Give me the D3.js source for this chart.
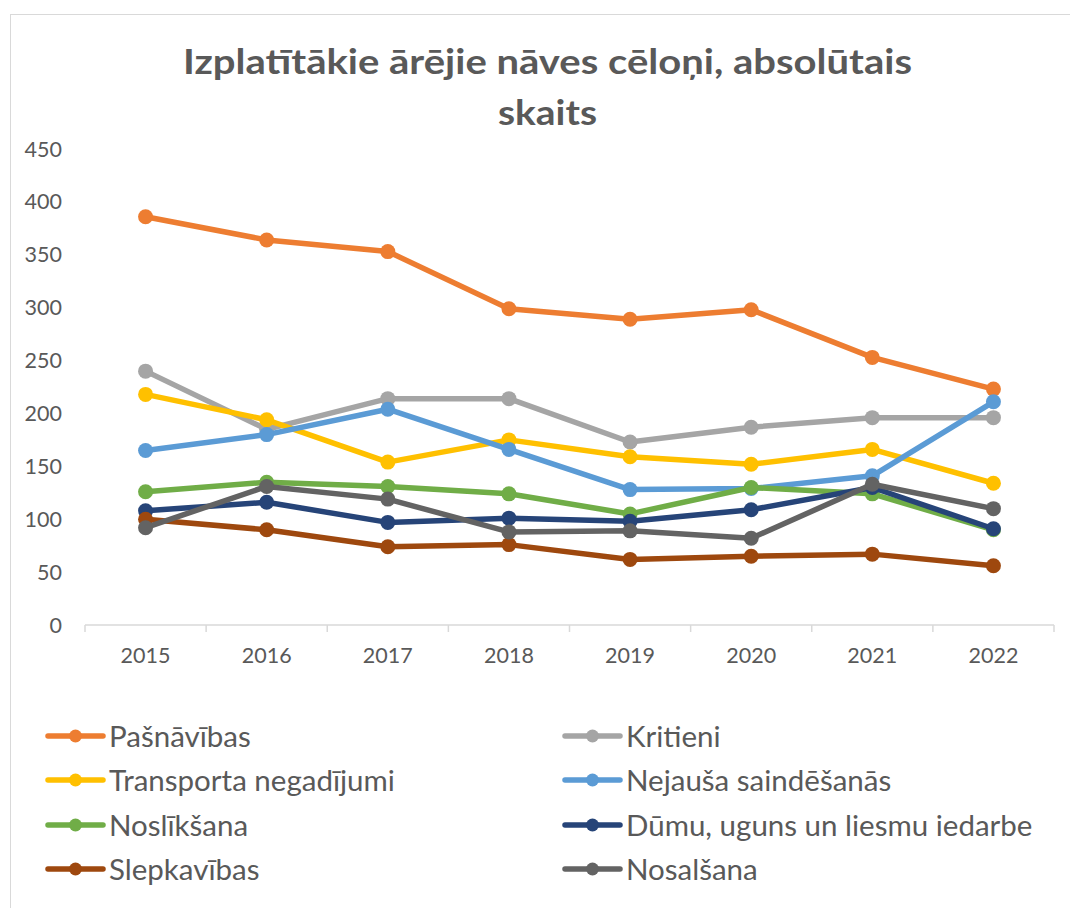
<!DOCTYPE html>
<html>
<head>
<meta charset="utf-8">
<script src="https://cdn.jsdelivr.net/npm/d3@7"></script>
<style>
  html, body { margin: 0; padding: 0; background: #fff; }
  svg { display: block; }
</style>
</head>
<body>
<svg id="chart" width="1070" height="908"></svg>
<script>
const years = ["2015", "2016", "2017", "2018", "2019", "2020", "2021", "2022"];
const yTicks = [0, 50, 100, 150, 200, 250, 300, 350, 400, 450];
const titleLines = ["Izplatītākie ārējie nāves cēloņi, absolūtais", "skaits"];

const seriesNames = ["Pašnāvības", "Kritieni", "Transporta negadījumi", "Nejauša saindēšanās",
  "Noslīkšana", "Dūmu, uguns un liesmu iedarbe", "Slepkavības", "Nosalšana"];
const pasnavibas = [386, 364, 353, 299, 289, 298, 253, 223];
const kritieni   = [240, 185, 214, 214, 173, 187, 196, 196];
const transports = [218, 194, 154, 175, 159, 152, 166, 134];
const saindesanas= [165, 180, 204, 166, 128, 129, 141, 211];
const nosliksana = [126, 135, 131, 124, 105, 130, 124, 90];
const dumi       = [108, 116, 97, 101, 98, 109, 130, 91];
const slepkavibas= [100, 90, 74, 76, 62, 65, 67, 56];
const nosalsana  = [92, 131, 119, 88, 89, 82, 133, 110];
const seriesValues = [pasnavibas, kritieni, transports, saindesanas, nosliksana, dumi, slepkavibas, nosalsana];
const seriesColors = ["#ED7D31", "#A5A5A5", "#FFC000", "#5B9BD5", "#70AD47", "#264478", "#9E480E", "#636363"];

const svg = d3.select("#chart");
const textColor = "#595959";
const font = "Lato, 'Open Sans', sans-serif";

// chart border
svg.append("rect").attr("x", 10.5).attr("y", 14.5).attr("width", 1100).attr("height", 1000)
  .attr("fill", "none").attr("stroke", "#d9d9d9").attr("stroke-width", 1);

// title
const tl = svg.append("g");
tl.append("text").attr("x", 547.5).attr("y", 74).attr("text-anchor", "middle")
  .attr("font-family", font).attr("font-weight", 700).attr("font-size", 35)
  .attr("fill", textColor).attr("textLength", 729).attr("lengthAdjust", "spacingAndGlyphs")
  .text(titleLines[0]);
tl.append("text").attr("x", 547.5).attr("y", 125).attr("text-anchor", "middle")
  .attr("font-family", font).attr("font-weight", 700).attr("font-size", 35)
  .attr("fill", textColor).attr("textLength", 99).attr("lengthAdjust", "spacingAndGlyphs")
  .text(titleLines[1]);

const x = d3.scaleBand().domain(years).range([85, 1054]);
const y = d3.scaleLinear().domain([0, 450]).range([625, 149]);

// y labels
svg.append("g").selectAll("text").data(yTicks).join("text")
  .attr("x", 62).attr("y", d => y(d)).attr("dy", "0.35em").attr("text-anchor", "end")
  .attr("font-family", font).attr("font-size", 21.5).attr("fill", textColor)
  .text(d => d);

// x axis
const xAxis = svg.append("g").attr("transform", "translate(0,625)");
xAxis.append("line").attr("x1", 85).attr("x2", 1054).attr("y1", 0).attr("y2", 0)
  .attr("stroke", "#d9d9d9").attr("stroke-width", 1.5);
const bounds = years.map(d => x(d)).concat([x(years[years.length - 1]) + x.bandwidth()]);
xAxis.selectAll("line.tick").data(bounds).join("line").attr("class", "tick")
  .attr("x1", d => d).attr("x2", d => d).attr("y1", 0).attr("y2", 7)
  .attr("stroke", "#d9d9d9").attr("stroke-width", 1.5);
xAxis.selectAll("text").data(years).join("text")
  .attr("x", d => x(d) + x.bandwidth() / 2).attr("y", 38).attr("text-anchor", "middle")
  .attr("font-family", font).attr("font-size", 21.5).attr("fill", textColor)
  .text(d => d);

// series
const line = d3.line().x((d, i) => x(years[i]) + x.bandwidth() / 2).y(d => y(d));
seriesValues.forEach((vals, si) => {
  const g = svg.append("g");
  g.append("path").datum(vals).attr("d", line).attr("fill", "none")
    .attr("stroke", seriesColors[si]).attr("stroke-width", 5.5).attr("stroke-linejoin", "round");
  g.selectAll("circle").data(vals).join("circle")
    .attr("cx", (d, i) => x(years[i]) + x.bandwidth() / 2).attr("cy", d => y(d))
    .attr("r", 7.5).attr("fill", seriesColors[si]);
});

// legend
const legRows = [736, 780, 825, 869];
const legCols = [48, 565];
seriesNames.forEach((name, i) => {
  const cx = legCols[i % 2], cy = legRows[Math.floor(i / 2)];
  const g = svg.append("g");
  g.append("line").attr("x1", cx).attr("x2", cx + 55).attr("y1", cy).attr("y2", cy)
    .attr("stroke", seriesColors[i]).attr("stroke-width", 5.5).attr("stroke-linecap", "round");
  g.append("circle").attr("cx", cx + 27.5).attr("cy", cy).attr("r", 6.5).attr("fill", seriesColors[i]);
  g.append("text").attr("x", cx + 61).attr("y", cy).attr("dy", "0.36em")
    .attr("font-family", font).attr("font-size", 29.5).attr("fill", textColor)
    .text(name);
});
</script>
</body>
</html>
